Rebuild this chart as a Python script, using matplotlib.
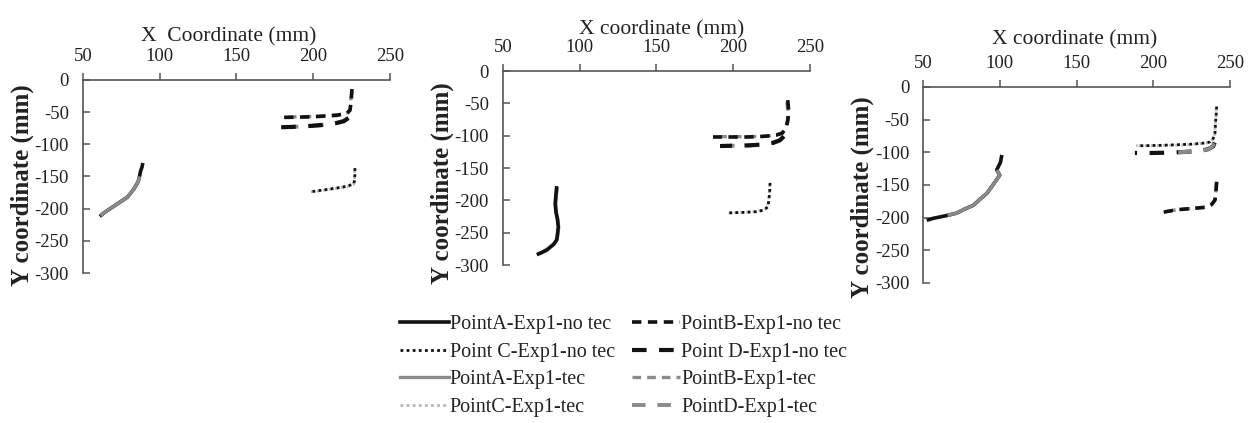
import matplotlib
matplotlib.use("Agg")
import matplotlib.pyplot as plt
from matplotlib.lines import Line2D

plt.rcParams['font.family'] = ['Liberation Serif', 'DejaVu Serif']
plt.rcParams['text.color'] = '#222222'
plt.rcParams['axes.labelcolor'] = '#222222'
plt.rcParams['xtick.color'] = '#222222'
plt.rcParams['ytick.color'] = '#222222'
plt.rcParams['axes.unicode_minus'] = False

# ---------------- data (mm) ----------------
x_ticks = [50, 100, 150, 200, 250]
y_ticks = [0, -50, -100, -150, -200, -250, -300]
x_titles = ["X  Coordinate (mm)", "X coordinate (mm)", "X coordinate (mm)"]
y_title = "Y coordinate (mm)"

# Panel 1
p1_A_no_x = [89, 88.5, 87.5, 87, 86, 83, 79, 74, 69, 64, 61]
p1_A_no_y = [-129, -135, -142, -148, -158, -170, -182, -190, -198, -206, -212]
p1_A_tec_x = [87, 86, 83, 79, 74, 69, 64, 61.5]
p1_A_tec_y = [-150, -158, -170, -182, -190, -198, -206, -211]
p1_B_no_x = [225.3, 225, 224.5, 224, 222, 215, 205, 195, 185, 180]
p1_B_no_y = [-14, -25, -38, -47, -52, -55, -56.5, -57.5, -58, -58]
p1_B_tec_x = [225, 224.5, 224, 222.5, 216, 205, 195, 185, 179.5]
p1_B_tec_y = [-18, -30, -45, -51, -54, -56, -57, -57.5, -57.8]
p1_C_no_x = [227.2, 227.2, 227, 226.5, 222.6, 215, 208, 202, 198]
p1_C_no_y = [-137, -145, -155, -161, -165, -168, -170.5, -172.5, -174]
p1_C_tec_x = [227, 227, 226.8, 226.3, 222.5, 215, 208, 202, 198.5]
p1_C_tec_y = [-140, -147, -156, -162, -165.5, -168.5, -171, -173, -174]
p1_D_no_x = [223, 220, 215, 205, 195, 185, 178]
p1_D_no_y = [-59, -64, -67, -70, -72, -73, -73.5]
p1_D_tec_x = [222.5, 219, 214, 205, 195, 185, 177.7]
p1_D_tec_y = [-60, -64.5, -67.5, -70.5, -72, -73, -73.5]

# Panel 2
p2_A_no_x = [85, 84.5, 84, 84.5, 85.5, 86, 85.5, 85, 83, 78.5, 75, 72]
p2_A_no_y = [-178, -190, -205, -218, -230, -241, -252, -261, -268, -277, -281, -284]
p2_A_tec_x = [85.3, 84.8, 84.3, 84.8, 85.8, 86.3, 85.8, 85.3, 83.5, 79, 75.5, 72.5]
p2_A_tec_y = [-180, -192, -206, -219, -231, -242, -252, -260, -267, -275, -280, -283]
p2_B_no_x = [235.5, 236, 235.7, 234.5, 232, 228, 220, 210, 200, 190, 186.8]
p2_B_no_y = [-45, -58, -75, -88, -96, -99, -101, -102, -102, -102, -102]
p2_B_tec_x = [235, 235.5, 235.3, 234, 231.5, 227.5, 220, 210, 200, 190, 187]
p2_B_tec_y = [-48, -60, -76, -89, -96.5, -99.5, -101, -101.5, -101.5, -101.5, -101.5]
p2_C_no_x = [224, 223.8, 223.3, 222.6, 220, 215, 208, 202, 196.6]
p2_C_no_y = [-173, -185, -198, -210, -215, -217.5, -218.5, -219, -219.5]
p2_C_tec_x = [223.8, 223.6, 223.1, 222.4, 219.8, 215, 208, 202, 197]
p2_C_tec_y = [-175, -187, -199, -210.5, -215.5, -217.5, -218.5, -219, -219.5]
p2_D_no_x = [233, 230.5, 226, 220, 210, 200, 191.4]
p2_D_no_y = [-101, -107, -111, -113.5, -115, -115.5, -116]
p2_D_tec_x = [232.5, 230, 225.5, 220, 210, 200, 192]
p2_D_tec_y = [-102, -107.5, -111.5, -113.5, -115, -115.5, -116]

# Panel 3
p3_A_no_x = [101.3, 100.5, 98, 100, 97, 94, 91.5, 87, 82.8, 77, 72, 65, 56.7, 52.4]
p3_A_no_y = [-104, -115, -127, -135, -145, -155, -163, -172, -181, -187, -193, -197, -201, -204]
p3_A_tec_x = [98, 100, 97, 94, 91.5, 87, 82.8, 77, 72, 66]
p3_A_tec_y = [-127, -135, -145, -155, -163, -172, -181, -187, -193, -196.5]
p3_B_no_x = [241.3, 241, 240.7, 240.2, 238, 234.8, 225, 215, 208, 203.4]
p3_B_no_y = [-145, -155, -165, -173, -180, -184, -186, -188, -191, -194]
p3_B_tec_x = [241, 240.8, 240.5, 240, 237.5, 234.5, 225, 215, 208.5]
p3_B_tec_y = [-148, -157, -166, -174, -180.5, -184, -186, -188, -190.5]
p3_C_no_x = [241.3, 241, 240.5, 240.2, 239, 237, 234.8, 225, 215, 205, 195, 189.2]
p3_C_no_y = [-30, -42, -57, -71, -79, -84, -85.5, -87.5, -88.5, -89.3, -89.8, -90]
p3_C_tec_x = [241, 240.8, 240.3, 240, 238.8, 236.8, 234.5, 225, 215, 205, 195, 190]
p3_C_tec_y = [-33, -45, -59, -72, -80, -84.5, -86, -88, -89, -89.5, -90, -90]
p3_D_no_x = [240, 239, 236, 230.5, 220, 210, 200, 188]
p3_D_no_y = [-85, -91, -95, -98, -99.5, -100.5, -101, -101]
p3_D_tec_x = [239.5, 238.5, 235.5, 230, 220, 212]
p3_D_tec_y = [-86, -91.5, -95.5, -98, -99.5, -100.3]

legend_labels = ["PointA-Exp1-no tec", "Point C-Exp1-no tec", "PointA-Exp1-tec", "PointC-Exp1-tec",
                 "PointB-Exp1-no tec", "Point D-Exp1-no tec", "PointB-Exp1-tec", "PointD-Exp1-tec"]

# ---------------- styles ----------------
BLACK = '#111111'
GRAY = '#8a8a8a'
LGRAY = '#b5b5b5'
styles = {
    'A_no': dict(color=BLACK, lw=2.6, ls='-'),
    'A_tec': dict(color=GRAY, lw=2.4, ls='-'),
    'B_no': dict(color=BLACK, lw=2.6, ls=(0, (2.6, 1.8))),
    'B_tec': dict(color=GRAY, lw=2.4, ls=(0, (2.6, 1.8))),
    'C_no': dict(color=BLACK, lw=2.0, ls=(0, (1, 1.2))),
    'C_tec': dict(color=LGRAY, lw=2.0, ls=(0, (1, 1.2))),
    'D_no': dict(color=BLACK, lw=3.0, ls=(0, (3.5, 3))),
    'D_tec': dict(color=GRAY, lw=2.8, ls=(0, (3.5, 3))),
}

panels = [
    {'A_no': (p1_A_no_x, p1_A_no_y), 'A_tec': (p1_A_tec_x, p1_A_tec_y),
     'B_tec': (p1_B_tec_x, p1_B_tec_y), 'B_no': (p1_B_no_x, p1_B_no_y),
     'C_tec': (p1_C_tec_x, p1_C_tec_y), 'C_no': (p1_C_no_x, p1_C_no_y),
     'D_tec': (p1_D_tec_x, p1_D_tec_y), 'D_no': (p1_D_no_x, p1_D_no_y)},
    {'A_tec': (p2_A_tec_x, p2_A_tec_y), 'A_no': (p2_A_no_x, p2_A_no_y),
     'B_tec': (p2_B_tec_x, p2_B_tec_y), 'B_no': (p2_B_no_x, p2_B_no_y),
     'C_tec': (p2_C_tec_x, p2_C_tec_y), 'C_no': (p2_C_no_x, p2_C_no_y),
     'D_tec': (p2_D_tec_x, p2_D_tec_y), 'D_no': (p2_D_no_x, p2_D_no_y)},
    {'A_no': (p3_A_no_x, p3_A_no_y), 'A_tec': (p3_A_tec_x, p3_A_tec_y),
     'B_tec': (p3_B_tec_x, p3_B_tec_y), 'B_no': (p3_B_no_x, p3_B_no_y),
     'C_tec': (p3_C_tec_x, p3_C_tec_y), 'C_no': (p3_C_no_x, p3_C_no_y),
     'D_no': (p3_D_no_x, p3_D_no_y), 'D_tec': (p3_D_tec_x, p3_D_tec_y)},
]

# layout: [left, bottom, width, height] in figure fraction
positions = [
    [0.0661, 0.3546, 0.2446, 0.4563],
    [0.4008, 0.3735, 0.2446, 0.4586],
    [0.7355, 0.3310, 0.2446, 0.4634],
]
xlabel_coords = [(0.474, 1.20), (0.517, 1.19), (0.495, 1.215)]
ylabel_coords = [(-0.16, 0.456), (-0.16, 0.42), (-0.16, 0.44)]

fig = plt.figure(figsize=(12.55, 4.23), dpi=100)

for i, (pos, data) in enumerate(zip(positions, panels)):
    ax = fig.add_axes(pos)
    for key, (xs, ys) in data.items():
        ax.plot(xs, ys, solid_capstyle='butt', dash_capstyle='butt', **styles[key])
    ax.set_xlim(50, 250)
    ax.set_ylim(-300, 0)
    ax.set_xticks(x_ticks)
    ax.set_yticks(y_ticks)
    ax.spines['right'].set_visible(False)
    ax.spines['bottom'].set_visible(False)
    for s in ('top', 'left'):
        ax.spines[s].set_color('#555555')
        ax.spines[s].set_linewidth(1.2)
    ax.xaxis.set_ticks_position('top')
    ax.xaxis.set_label_position('top')
    ax.tick_params(axis='x', direction='out', length=5, width=1.1, pad=6,
                   labelsize=13.5, color='#555555')
    ax.tick_params(axis='y', direction='in', length=5, width=1.1, pad=10,
                   labelsize=13.5, color='#555555')
    ax.set_xlabel(x_titles[i], fontsize=15.5)
    ax.xaxis.set_label_coords(*xlabel_coords[i])
    ax.set_ylabel(y_title, fontsize=18, fontweight='bold')
    ax.yaxis.set_label_coords(*ylabel_coords[i])
    ax.patch.set_alpha(0)

# legend
order = ['A_no', 'C_no', 'A_tec', 'C_tec', 'B_no', 'D_no', 'B_tec', 'D_tec']
handles = [Line2D([], [], **styles[k]) for k in order]
fig.legend(handles, legend_labels, ncol=2, loc='center', bbox_to_anchor=(0.497, 0.135),
           frameon=False, fontsize=14.5, handlelength=2.4, handletextpad=0.05,
           columnspacing=0.85, labelspacing=0.42, borderpad=0.2)

fig.savefig("out.png", dpi=100, facecolor='white')
